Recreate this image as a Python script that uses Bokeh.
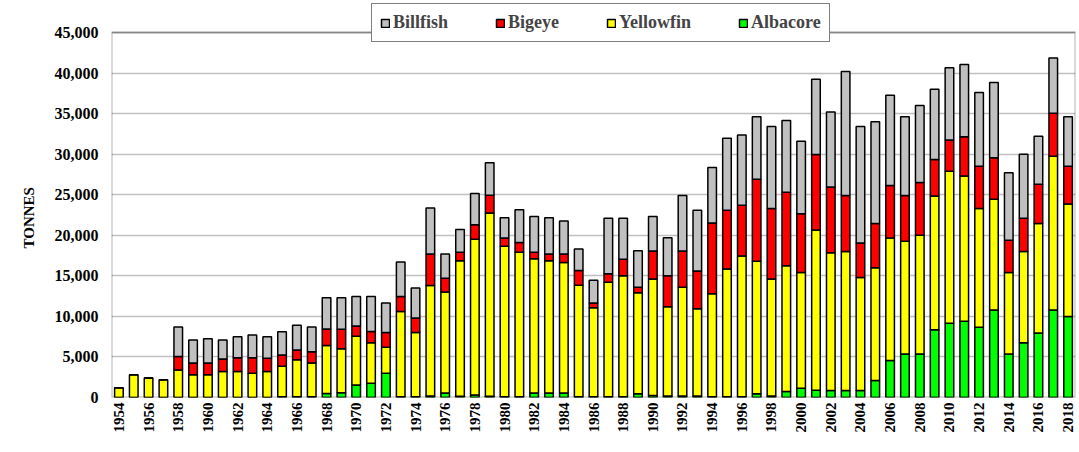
from math import pi
from bokeh.plotting import figure
from bokeh.models import (ColumnDataSource, Legend, LegendItem, NumeralTickFormatter,
                          FixedTicker, BoxAnnotation, Range1d, Title)
from bokeh.embed import file_html
from bokeh.resources import INLINE

years = list(range(1954, 2019))

albacore = [0, 0, 0, 0, 0, 0, 0, 0, 0, 0, 0, 100, 100, 100, 500, 600, 1550, 1750, 3000, 100,
            100, 200, 550, 150, 300, 150, 100, 100, 550, 550, 550, 100, 100, 100, 100, 450, 250, 200,
            200, 200, 100, 100, 100, 450, 200, 750, 1150, 900, 850, 850, 850, 2100, 4550, 5350,
            5350, 8350, 9150, 9400, 8650, 10800, 5350, 6750, 7950, 10800, 10000]

yellowfin = [1200, 2800, 2400, 2200, 3400, 2800, 2800, 3200, 3200, 3000, 3200, 3750, 4550, 4150,
             5900, 5400, 6000, 5000, 3200, 10500, 7900, 13600, 12450, 16700, 19200, 22600, 18550,
             17800, 16550, 16300, 16100, 13750, 10950, 14100, 14900, 12450, 14350, 11000, 13400,
             10750, 12700, 15750, 17350, 16350, 14400, 15500, 14250, 19750, 17000, 17150, 13950,
             13900, 15100, 13900, 14650, 16500, 18750, 17900, 14650, 13650, 10050, 11250, 13500,
             18950, 13850]

bigeye = [0, 0, 0, 0, 1650, 1450, 1450, 1550, 1700, 1900, 1650, 1400, 1200, 1400, 2050, 2400,
          1250, 1400, 1800, 1850, 1800, 3900, 1700, 1050, 1800, 2200, 1000, 1200, 800, 850, 1050,
          1800, 600, 1050, 2050, 700, 3450, 3800, 4450, 4650, 8700, 7250, 6250, 10100, 8700, 9050,
          7250, 9300, 8100, 6900, 4250, 5450, 6500, 5650, 6500, 4500, 3850, 4850, 5200, 5100, 4000,
          4100, 4850, 5300, 4650]

billfish = [0, 0, 0, 0, 3650, 2850, 3000, 2350, 2600, 2800, 2650, 2850, 3050, 3050, 3850, 3900,
            3650, 4300, 3650, 4250, 3700, 5650, 3000, 2800, 3850, 4000, 2500, 4050, 4400, 4450, 4050,
            2650, 2800, 6850, 5050, 4500, 4250, 4700, 6850, 7500, 6850, 8850, 8650, 7700, 10100,
            8850, 8950, 9300, 9250, 15300, 14350, 12550, 11100, 9700, 9500, 8650, 8900, 8900, 9100,
            9300, 8300, 7900, 5900, 6800, 6100]

series = ["Albacore", "Yellowfin", "Bigeye", "Billfish"]
colors = ["#00FF00", "#FFFF00", "#FF0000", "#C0C0C0"]
x_ticks = list(range(1954, 2019, 2))
y_ticks = list(range(0, 45001, 5000))
Y_MAX = 45000

src = ColumnDataSource(dict(year=years, Albacore=albacore, Yellowfin=yellowfin,
                            Bigeye=bigeye, Billfish=billfish))

FONT = "Liberation Serif"

# frame extends above the 45,000 line so the legend can overlap the top border
FRAME_H = 397
TOP_PAD = 32
y_top = Y_MAX * FRAME_H / (FRAME_H - TOP_PAD)

p = figure(width=1079, height=452, output_backend="svg", toolbar_location=None,
           x_range=Range1d(years[0] - 0.5, years[-1] + 0.5), y_range=Range1d(0, y_top),
           min_border_left=111, min_border_right=4, min_border_top=0, min_border_bottom=55)

p.outline_line_color = None
p.background_fill_color = "white"
p.border_fill_color = "white"

rs = p.vbar_stack(series, x="year", width=0.58, source=src, fill_color=colors,
                  line_color="black", line_width=1.5)

p.xgrid.visible = False
p.ygrid.grid_line_color = "#c0c0c0"
p.ygrid.grid_line_width = 1.5
p.ygrid.ticker = FixedTicker(ticks=y_ticks[1:])

p.yaxis.ticker = FixedTicker(ticks=y_ticks)
p.yaxis.formatter = NumeralTickFormatter(format="0,0")
p.xaxis.ticker = FixedTicker(ticks=x_ticks)
p.xaxis.formatter = NumeralTickFormatter(format="0")
p.xaxis.major_label_orientation = pi / 2

for ax in (p.xaxis[0], p.yaxis[0]):
    ax.axis_line_color = None
    ax.major_tick_out = 0
    ax.major_tick_in = 0
    ax.minor_tick_line_color = None
    ax.major_label_text_font = FONT
    ax.major_label_text_font_style = "bold"
    ax.major_label_text_color = "black"

p.yaxis.major_label_text_font_size = "16px"
p.xaxis.major_label_text_font_size = "15px"
p.yaxis.major_label_standoff = 13
p.xaxis.major_label_standoff = 5

ylab = Title(text="TONNES", align="left", offset=149, standoff=30,
             text_font=FONT, text_font_style="bold", text_font_size="15px",
             text_color="black")
p.add_layout(ylab, "left")

# plot-area border (0 .. 45,000)
border = BoxAnnotation(left=years[0] - 0.5, right=years[-1] + 0.5, bottom=0, top=Y_MAX,
                       fill_alpha=0, line_color="black", line_width=2)
p.add_layout(border)

items = [LegendItem(label=n, renderers=[r]) for n, r in reversed(list(zip(series, rs)))]
legend = Legend(items=items, orientation="horizontal", location=(260, 355),
                padding=8, spacing=47, glyph_width=10, glyph_height=10, label_standoff=3,
                label_text_font=FONT, label_text_font_style="bold", label_text_font_size="18px",
                border_line_color="black", border_line_width=1.5,
                background_fill_color="white", background_fill_alpha=1.0)
p.add_layout(legend, "center")

open("out.html", "w").write(file_html(p, INLINE))
